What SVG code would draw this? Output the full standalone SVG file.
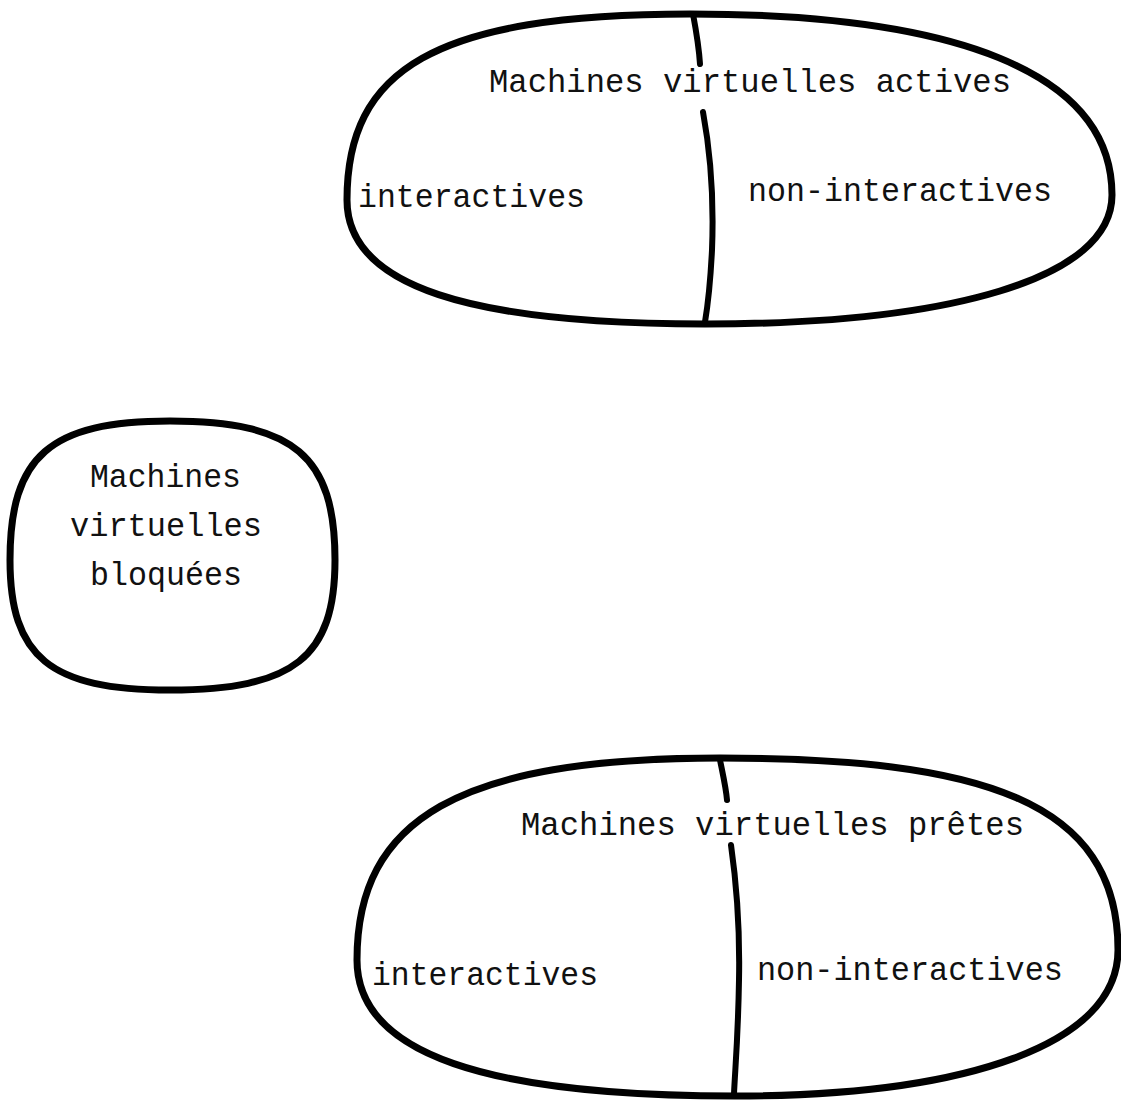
<svg xmlns="http://www.w3.org/2000/svg" width="1121" height="1103" viewBox="0 0 1121 1103">
<style>
.outline{fill:none;stroke:#000;stroke-width:7;stroke-linejoin:round;stroke-linecap:round}
.div{fill:none;stroke:#000;stroke-width:6;stroke-linecap:round}
.t{font-family:"Liberation Mono","DejaVu Sans Mono",monospace;font-size:33px;fill:#111}
</style>
<rect width="1121" height="1103" fill="#fff"/>
<g id="actives">
<path class="outline" d="M347,200 C347,70 433,14 690,14 C950,14 1112,70 1112,195 C1112,279 949,324 705,324 C472,324 347,287 347,200 Z"/>
<text class="t" x="489" y="92" textLength="522" lengthAdjust="spacingAndGlyphs">Machines virtuelles actives</text>
<text class="t" x="358" y="207" textLength="227" lengthAdjust="spacingAndGlyphs">interactives</text>
<text class="t" x="748" y="201" textLength="304" lengthAdjust="spacingAndGlyphs">non-interactives</text>
</g>
<g id="bloquees">
<path class="outline" d="M10,560 C10,456 50,421 170,421 C294,421 335,456 335,560 C335,657 294,690 170,690 C50,690 10,657 10,560 Z"/>
<text class="t" x="90" y="487" textLength="151" lengthAdjust="spacingAndGlyphs">Machines</text>
<text class="t" x="70" y="536" textLength="192" lengthAdjust="spacingAndGlyphs">virtuelles</text>
<text class="t" x="90" y="585" textLength="152" lengthAdjust="spacingAndGlyphs">bloquées</text>
</g>
<g id="pretes">
<path class="outline" d="M357,960 C357,819 459,758 720,758 C980,758 1118,800 1118,950 C1118,1045 965,1096 735,1096 C489,1096 357,1055 357,960 Z"/>
<text class="t" x="521" y="835" textLength="503" lengthAdjust="spacingAndGlyphs">Machines virtuelles prêtes</text>
<text class="t" x="372" y="985" textLength="226" lengthAdjust="spacingAndGlyphs">interactives</text>
<text class="t" x="757" y="980" textLength="306" lengthAdjust="spacingAndGlyphs">non-interactives</text>
</g>
<g id="connectors">
<path class="div" d="M693,14 C696,30 699,48 700,64"/>
<path class="div" d="M703,112 C710,150 714,200 712,250 C710,290 707,310 705,322"/>
<path class="div" d="M720,760 C723,775 726,788 727,800"/>
<path class="div" d="M731,845 C736,880 740,930 739,980 C738,1040 735,1070 734,1094"/>
</g>
</svg>
